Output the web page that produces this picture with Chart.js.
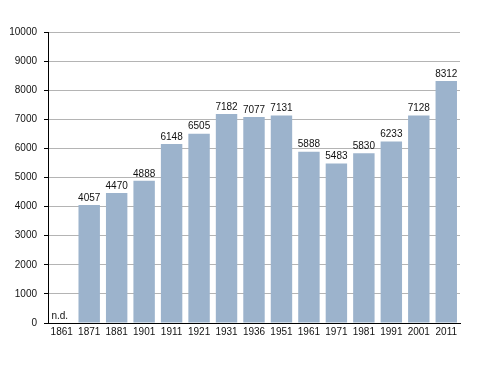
<!DOCTYPE html>
<html>
<head>
<meta charset="utf-8">
<script src="https://cdn.jsdelivr.net/npm/chart.js@4.4.1/dist/chart.umd.min.js"></script>
<style>
  html, body { margin: 0; padding: 0; background: #fff; }
  #wrap { width: 488px; height: 373px; position: relative; }
</style>
</head>
<body>
<div id="wrap"><canvas id="chart"></canvas></div>
<script>
const years = ["1861", "1871", "1881", "1901", "1911", "1921", "1931", "1936", "1951", "1961", "1971", "1981", "1991", "2001", "2011"];
const population = [null, 4057, 4470, 4888, 6148, 6505, 7182, 7077, 7131, 5888, 5483, 5830, 6233, 7128, 8312];
const missingLabel = "n.d.";

const FONT = "'Liberation Sans', Arial, sans-serif";

// values above the bars, "n.d." where there is no data
const valueLabels = {
  id: "valueLabels",
  afterDatasetsDraw(chart) {
    const ctx = chart.ctx;
    const meta = chart.getDatasetMeta(0);
    const bottom = chart.scales.y.getPixelForValue(0);
    ctx.save();
    ctx.font = "10px " + FONT;
    ctx.fillStyle = "#111";
    ctx.textAlign = "center";
    ctx.textBaseline = "bottom";
    meta.data.forEach((bar, i) => {
      const v = population[i];
      if (v === null) {
        const x = chart.scales.x.getPixelForValue(i);
        ctx.fillText(missingLabel, x - 2, bottom - 2);
      } else {
        ctx.fillText(String(v), bar.x, bar.y - 2);
      }
    });
    ctx.restore();
  }
};

new Chart(document.getElementById("chart"), {
  type: "bar",
  data: {
    labels: years,
    datasets: [{
      data: population,
      backgroundColor: "#9cb3cc",
      borderWidth: 0,
      categoryPercentage: 0.78,
      barPercentage: 1
    }]
  },
  options: {
    responsive: true,
    maintainAspectRatio: false,
    animation: false,
    layout: { padding: { top: 32, right: 28, bottom: 32, left: 0 } },
    plugins: {
      legend: { display: false },
      tooltip: { enabled: false }
    },
    scales: {
      x: {
        grid: { display: false, drawTicks: false },
        border: { display: true, color: "#000", width: 1 },
        ticks: { color: "#111", font: { family: FONT, size: 10 }, padding: 3, maxRotation: 0, autoSkip: false }
      },
      y: {
        min: 0,
        max: 10000,
        afterFit(scale) { scale.width = 48; },
        border: { display: true, color: "#000", width: 1 },
        grid: {
          color: ctx => (ctx.tick && ctx.tick.value % 1000 === 0) ? "#b4b4b4" : "#ececec",
          tickColor: "#000",
          tickLength: 4
        },
        ticks: {
          stepSize: 500,
          color: "#111",
          font: { family: FONT, size: 10 },
          padding: 7,
          callback: v => (v % 1000 === 0 ? v : "")
        }
      }
    }
  },
  plugins: [valueLabels]
});
</script>
</body>
</html>
